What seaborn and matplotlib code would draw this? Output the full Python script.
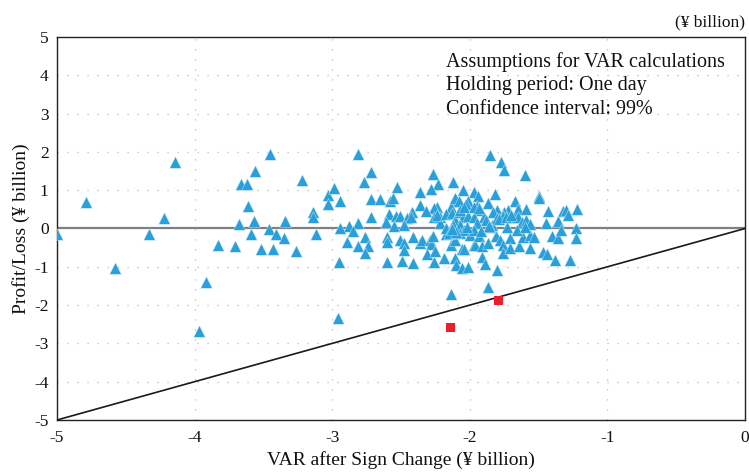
import matplotlib
matplotlib.use("Agg")
import matplotlib.pyplot as plt
import seaborn as sns
import pandas as pd

# ---- data (¥ billion) ----
# Daily trading results: VAR after sign change (x) vs. profit/loss (y)
var_x = [
    -5.00, -4.79, -4.14, -4.22, -4.33, -4.58, -3.92, -3.97, -3.83, -3.71,
    -3.68, -3.66, -3.62, -3.61, -3.56, -3.57, -3.59, -3.52, -3.45, -3.46,
    -3.43, -3.41, -3.35, -3.34, -3.26, -3.22, -3.14, -3.14, -3.12, -3.03,
    -3.03, -2.99, -2.96, -2.95,
    -2.81, -2.72, -2.77, -2.94, -2.72, -2.65, -2.58, -2.56, -2.53, -2.36,
    -2.27, -2.23, -2.28, -2.12, -2.05, -1.97, -1.94, -1.82, -1.85, -1.77,
    -1.75, -1.60, -1.50, -1.50, -1.87, -1.67, -2.36, -2.24, -2.26, -2.32,
    -2.42, -2.11, -2.10, -2.14, -2.01, -2.03, -1.95, -1.94, -1.80, -1.83,
    -1.72, -1.75, -1.65, -1.59, -1.43, -1.32, -1.30, -1.29, -1.22, -2.72,
    -2.59, -2.61, -2.54, -2.51, -2.55, -2.46, -2.43, -2.48, -2.81, -2.88,
    -2.85, -2.94, -2.26, -2.22, -2.22, -2.24, -2.17, -2.13, -2.11, -2.08,
    -2.05, -2.01, -2.12, -2.07, -1.97, -1.90, -1.88, -1.95, -1.84, -1.80,
    -1.76, -1.68, -1.65, -1.62, -1.59, -1.56, -1.45, -1.36, -1.23, -1.23,
    -2.89, -2.81, -2.76, -2.74, -2.76, -2.60, -2.60, -2.60, -2.51, -2.48,
    -2.48, -2.49, -2.41, -2.41, -2.36, -2.35, -2.29, -2.28, -2.27, -2.31,
    -2.25, -2.26, -2.19, -2.17, -2.14, -2.11, -2.07, -2.04, -2.00, -2.11,
    -2.10, -2.06, -2.06, -2.01, -2.04, -1.97, -1.96, -1.93, -1.91, -1.87,
    -1.91, -1.89, -1.80, -1.81, -1.78, -1.76, -1.76, -1.71, -1.71, -1.64,
    -1.61, -1.56, -1.56, -1.53, -1.47, -1.44, -1.40, -1.36, -1.34, -1.38,
    -1.27, -2.14, -1.87,
    -2.11, -2.08, -2.07, -2.04, -1.97, -1.93, -1.79, -1.74, -1.70, -1.85,
    -1.73, -2.17, -2.15, -2.10, -1.97, -2.13, -2.02, -1.92, -1.86, -1.66,
    -1.60,
]
profit_loss = [
    -0.15, 0.69, 1.73, 0.27, -0.14, -1.03, -1.39, -2.68, -0.42, -0.47,
    0.13, 1.16, 1.15, 0.59, 1.50, 0.20, -0.14, -0.54, 1.95, -0.02,
    -0.54, -0.14, -0.25, 0.20, -0.59, 1.27, 0.42, 0.29, -0.14, 0.87,
    0.64, 1.05, -2.33, -0.87,
    1.95, 1.48, 1.21, 0.71, 0.76, 0.76, 0.72, 0.79, 1.09, 0.94,
    1.41, 1.16, 1.04, 1.22, 1.01, 0.94, 0.86, 0.90, 1.93, 1.73,
    1.53, 1.39, 0.86, 0.79, 0.67, 0.73, 0.61, 0.57, 0.54, 0.46,
    0.44, 0.76, 0.71, 0.57, 0.73, 0.64, 0.59, 0.47, 0.48, 0.44,
    0.48, 0.44, 0.51, 0.50, 0.45, 0.46, 0.48, 0.35, 0.52, 0.29,
    0.38, 0.18, 0.33, 0.33, 0.07, 0.27, 0.31, 0.09, 0.15, 0.07,
    -0.07, 0.01, 0.29, 0.29, 0.14, 0.35, 0.38, 0.41, 0.22, 0.44,
    0.31, 0.33, 0.09, 0.09, 0.29, 0.29, 0.22, 0.14, 0.09, 0.27,
    0.33, 0.29, 0.31, 0.18, 0.22, 0.12, 0.14, 0.20, 0.00, -0.24,
    -0.35, -0.47, -0.23, -0.47, -0.65, -0.87, -0.21, -0.34, -0.30, -0.39,
    -0.56, -0.85, -0.89, -0.21, -0.39, -0.30, -0.30, -0.41, -0.20, -0.67,
    -0.59, -0.87, -0.76, -0.14, -0.43, -0.30, -0.11, -0.04, -0.17, -0.76,
    -0.95, -0.53, -1.02, -1.01, -0.54, -0.43, -0.43, -0.20, -0.46, -0.39,
    -0.74, -0.93, -1.08, -0.20, -0.30, -0.43, -0.63, -0.26, -0.52, -0.47,
    -0.21, -0.17, -0.52, -0.21, -0.61, -0.67, -0.20, -0.24, -0.04, -0.82,
    -0.81, -1.72, -1.54,
    0.79, 0.72, 0.48, 0.57, 0.57, 0.53, 0.24, 0.31, 0.35, 0.03,
    0.05, 0.00, -0.13, -0.08, -0.04, -0.02, 0.04, -0.06, 0.06, -0.04,
    0.03,
]
# Days on which the loss exceeded VAR
exceed_x = [-2.14, -1.79]
exceed_y = [-2.59, -1.88]

axis_ticks = [-5, -4, -3, -2, -1, 0]
y_ticks = [-5, -4, -3, -2, -1, 0, 1, 2, 3, 4, 5]
x_label = "VAR after Sign Change (¥ billion)"
y_label = "Profit/Loss (¥ billion)"
unit_label = "(¥ billion)"
note_text = "Assumptions for VAR calculations\nHolding period: One day\nConfidence interval: 99%"

# ---- plot ----
sns.set_theme(style="white")
plt.rcParams["font.family"] = ["Liberation Serif", "DejaVu Serif"]

fig = plt.figure(figsize=(7.49, 4.72), dpi=100)
ax = fig.add_axes([0.0761, 0.1102, 0.9186, 0.8114])

ax.set_xlim(-5, 0)
ax.set_ylim(-5, 5)

# dotted grid
for t in axis_ticks:
    ax.axvline(t, color="#bdbdbd", lw=0.9, ls=(0, (1, 7)), zorder=0)
for t in y_ticks:
    ax.axhline(t, color="#bdbdbd", lw=0.9, ls=(0, (1, 7)), zorder=0)

ax.axhline(0, color="#808080", lw=1.6, zorder=1)
ax.plot([-5, 0], [-5, 0], color="#1a1a1a", lw=1.2, zorder=2)

pts = pd.DataFrame({"var": var_x, "pl": profit_loss})
sns.scatterplot(data=pts, x="var", y="pl", marker="^", s=70, color="#2aa0da",
                edgecolor="#d8eef9", linewidth=0.3, ax=ax, zorder=3)
ex = pd.DataFrame({"var": exceed_x, "pl": exceed_y})
sns.scatterplot(data=ex, x="var", y="pl", marker="s", s=42, color="#e8202a",
                edgecolor="none", ax=ax, zorder=4)

ax.set_xticks(axis_ticks)
ax.set_xticklabels([str(t) for t in axis_ticks])
ax.set_yticks(y_ticks)
ax.set_yticklabels([str(t) for t in y_ticks])
ax.tick_params(axis="both", length=0, labelsize=12.5, colors="#111111")
ax.tick_params(axis="x", pad=7)
ax.tick_params(axis="y", pad=6)

ax.set_xlabel(x_label, fontsize=14, color="#111111", labelpad=4)
ax.set_ylabel(y_label, fontsize=14, color="#111111", labelpad=3)

for sp in ax.spines.values():
    sp.set_visible(True)
    sp.set_color("#222222")
    sp.set_linewidth(1.0)

ax.text(0.565, 0.96, note_text, transform=ax.transAxes, ha="left", va="top",
        fontsize=14.5, color="#111111", linespacing=1.3)

fig.text(0.995, 0.953, unit_label, ha="right", va="center", fontsize=12.5,
         color="#111111")

fig.savefig("out.png", dpi=100)
